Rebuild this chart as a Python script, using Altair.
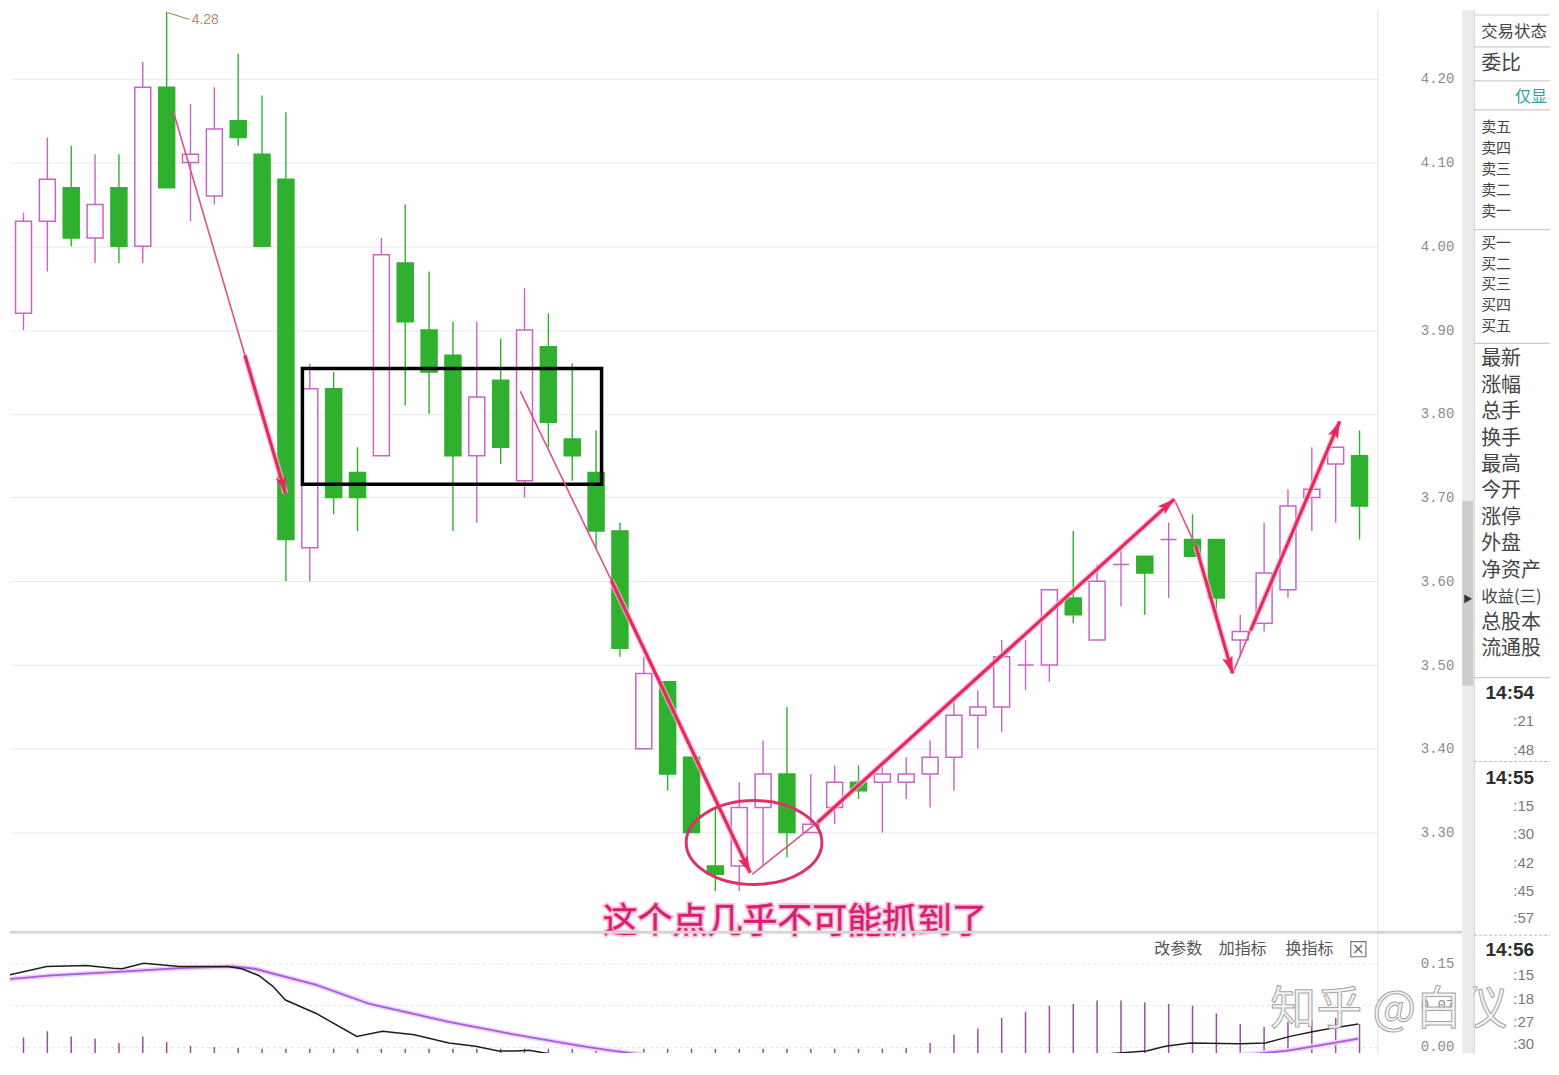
import altair as alt
import pandas as pd

# ---------------------------------------------------------------- candles
candle_idx = list(range(58))
opens = [3.82, 3.92, 4.03, 4.07, 4.01, 4.07, 4.00, 4.19, 4.10, 4.06, 4.15, 4.11, 4.08, 3.64, 3.83,
         3.73, 3.75, 3.98, 3.90, 3.87, 3.75, 3.84, 3.72, 3.88, 3.77, 3.73, 3.66, 3.40, 3.48, 3.39,
         3.26, 3.26, 3.33, 3.37, 3.30, 3.33, 3.36, 3.36, 3.36, 3.37, 3.39, 3.44, 3.45, 3.50, 3.50,
         3.58, 3.53, 3.62, 3.63, 3.65, 3.65, 3.65, 3.53, 3.55, 3.59, 3.70, 3.74, 3.75]
closes = [3.92, 4.03, 4.08, 4.01, 4.05, 4.00, 4.19, 4.07, 4.11, 4.14, 4.13, 4.00, 3.65, 3.83, 3.70,
          3.70, 3.99, 3.91, 3.85, 3.75, 3.82, 3.76, 3.90, 3.79, 3.75, 3.66, 3.52, 3.49, 3.37, 3.30,
          3.25, 3.33, 3.37, 3.30, 3.31, 3.36, 3.35, 3.37, 3.37, 3.39, 3.44, 3.45, 3.51, 3.50, 3.59,
          3.56, 3.60, 3.62, 3.61, 3.65, 3.63, 3.58, 3.54, 3.61, 3.69, 3.71, 3.76, 3.69]
highs = [3.94, 4.04, 4.13, 4.12, 4.11, 4.11, 4.22, 4.28, 4.17, 4.19, 4.23, 4.18, 4.16, 3.86, 3.85,
         3.76, 4.01, 4.05, 3.97, 3.91, 3.91, 3.89, 3.95, 3.92, 3.86, 3.78, 3.67, 3.51, 3.48, 3.39,
         3.33, 3.36, 3.41, 3.45, 3.37, 3.38, 3.38, 3.38, 3.39, 3.41, 3.46, 3.47, 3.53, 3.53, 3.59,
         3.66, 3.62, 3.64, 3.63, 3.67, 3.68, 3.65, 3.56, 3.67, 3.71, 3.76, 3.76, 3.78]
lows = [3.80, 3.90, 3.97, 4.00, 3.98, 3.98, 3.98, 4.07, 4.03, 4.05, 4.12, 4.00, 3.60, 3.60, 3.68,
        3.66, 3.75, 3.81, 3.80, 3.66, 3.67, 3.74, 3.70, 3.76, 3.72, 3.64, 3.51, 3.40, 3.35, 3.30,
        3.23, 3.23, 3.26, 3.27, 3.30, 3.31, 3.34, 3.30, 3.34, 3.33, 3.35, 3.40, 3.42, 3.47, 3.48,
        3.55, 3.53, 3.57, 3.56, 3.58, 3.63, 3.56, 3.51, 3.54, 3.58, 3.66, 3.67, 3.65]
price_ticks = [3.30, 3.40, 3.50, 3.60, 3.70, 3.80, 3.90, 4.00, 4.10, 4.20]
high_label = "4.28"

# ---------------------------------------------------------------- MACD panel
macd_ticks = [0.00, 0.075, 0.15]
dif_k = [0.31, 1.97, 3.63, 4.75, 5.13, 6.04, 7.54, 9.57, 10.15, 10.86, 11.44, 11.98, 13.27, 14.97,
         16.05, 17.38, 18.83, 19.95, 20.91, 21.61, 22.19, 22.74, 26.0, 31.0, 38.0, 44.0, 48.07,
         48.86, 49.9, 52.0, 53.05, 54.09, 55.13, 56.17, 56.95]
dif_v = [0.128, 0.144, 0.146, 0.141, 0.140, 0.150, 0.144, 0.144, 0.140, 0.128, 0.109, 0.084, 0.060,
         0.019, 0.028, 0.022, 0.007, 0.0015, -0.007, -0.007, -0.006, -0.010, -0.030, -0.050, -0.035,
         -0.020, -0.007, 0.0015, 0.007, 0.006, 0.007, 0.019, 0.028, 0.036, 0.041]
dea_k = [0.31, 2.18, 5.13, 7.54, 9.78, 10.69, 13.27, 15.51, 18.83, 21.61, 24.4, 25.73, 30.0, 40.0,
         48.0, 53.92, 55.13, 56.17, 56.95]
dea_v = [0.121, 0.128, 0.135, 0.141, 0.144, 0.140, 0.111, 0.077, 0.045, 0.022, 0.0015, -0.007,
         -0.030, -0.040, -0.030, -0.007, 0.0015, 0.009, 0.015]
hist_k = list(range(1, 58))
hist_v = [0.017, 0.028, 0.019, 0.015, 0.007, 0.019, 0.009, 0.002, 0.000, -0.002,
          -0.003, -0.003, -0.003, -0.003, -0.003, -0.003, -0.003, -0.003, -0.003, -0.003,
          -0.003, -0.003, -0.003, -0.003, -0.003, -0.003, -0.003, -0.003, -0.003, -0.003,
          -0.003, -0.003, -0.003, -0.003, -0.003, -0.003, -0.003, -0.002,
          0.007, 0.022, 0.033, 0.052, 0.063, 0.074, 0.077, 0.083, 0.083, 0.080, 0.077, 0.074,
          0.060, 0.041, 0.036, 0.045, 0.048, 0.052, 0.041]
tool_labels = ["改参数", "加指标", "换指标"]
tool_k = [49.4, 52.1, 54.9]
tool_v = [0.175, 0.175, 0.175]
close_k = [56.95]
close_v = [0.175]
watermark = ["知乎 @白仪"]
watermark_k = [53.26]
watermark_v = [0.066]

# ---------------------------------------------------------------- annotations (candle index, price)
seg_id = ["a1", "a1", "a2", "a2", "a3", "a3", "a4", "a4", "a5", "a5"]
thin_k = [7.29, 10.28, 21.82, 25.64, 31.54, 34.28, 49.23, 50.14, 51.68, 52.43]
thin_p = [4.160, 3.870, 3.827, 3.601, 3.250, 3.312, 3.698, 3.642, 3.490, 3.541]
thick_k = [10.28, 11.98, 25.64, 31.46, 34.28, 49.23, 50.14, 51.68, 52.43, 56.17]
thick_p = [3.870, 3.705, 3.601, 3.252, 3.312, 3.698, 3.642, 3.490, 3.541, 3.791]
head_k = [11.98, 31.46, 49.23, 51.68, 56.17]
head_p = [3.705, 3.252, 3.698, 3.490, 3.791]
head_angle = [164, 154, 49, 162, 23]
box_k = [12.69, 25.23]
box_p = [3.854, 3.716]
circle_k = [31.62]
circle_p = [3.288]
note_text = ["这个点几乎不可能抓到了"]
note_k = [33.33]
note_p = [3.193]
hi_mark_k = [7.05, 7.95]
hi_mark_p = [4.279, 4.271]
hi_text_k = [8.05]
hi_text_p = [4.270]

# ---------------------------------------------------------------- side panel (screen rows)
side_labels = ["委比", "最新", "涨幅", "总手", "换手", "最高", "今开", "涨停", "外盘", "净资产",
               "总股本", "流通股"]
side_rows = [62, 358, 385, 411, 438, 464, 490, 517, 543, 570, 622, 648]
small_labels = ["交易状态", "收益(三)"]
small_rows = [30, 596]
book_labels = ["卖五", "卖四", "卖三", "卖二", "卖一", "买一", "买二", "买三", "买四", "买五"]
book_rows = [125, 146, 167, 188, 209, 241, 262, 283, 304, 325]
time_labels = ["14:54", ":21", ":48", "14:55", ":15", ":30", ":42", ":45", ":57", "14:56", ":15",
               ":18", ":27", ":30"]
time_rows = [692, 720, 749, 777, 806, 834, 863, 891, 918, 950, 975, 999, 1022, 1044]
link_label = ["仅显"]
link_row = [95]
solid_rows = [13, 45, 79, 108, 228, 342, 677]
dashed_rows = [761, 935]

# ================================================================ styling / scales
PINK = "#c864c8"
GREEN = "#2fb02f"
RED = "#e8285e"
W, H = 1370, 1045
xs = alt.Scale(domain=[0.643, 57.537], nice=False, zero=False)
ys = alt.Scale(domain=[3.0367, 4.2822], nice=False, zero=False)
ms = alt.Scale(domain=[-0.0107, 1.8554], nice=False, zero=False)


def X(f):
    return alt.X(f, type="quantitative", scale=xs, axis=None)


def YP(f, axis=None):
    return alt.Y(f, type="quantitative", scale=ys, axis=axis)


def YM(f, axis=None):
    return alt.Y(f, type="quantitative", scale=ms, axis=axis)


price_axis = alt.Axis(orient="right", values=price_ticks, format=".2f", title=None, ticks=False,
                      labelPadding=43, labelAlign="left", labelBaseline="middle",
                      labelFont="Liberation Mono", labelFontSize=14, labelColor="#8c8c8c",
                      minExtent=85, maxExtent=85, domain=True, domainColor="#e0e0e0",
                      grid=True, gridColor="#e8e8ef")
macd_axis = alt.Axis(orient="right", values=macd_ticks, format=".2f", title=None, ticks=False,
                     labelPadding=43, labelAlign="left", labelBaseline="middle",
                     labelFont="Liberation Mono", labelFontSize=14, labelColor="#8c8c8c",
                     minExtent=85, maxExtent=85, domain=False, grid=True, gridColor="#e4e4e4",
                     gridDash=[3, 3])

cdf = pd.DataFrame({"k": candle_idx, "open": opens, "close": closes, "high": highs, "low": lows})
cdf["dir"] = ["up" if c >= o else "down" for o, c in zip(opens, closes)]
line_sc = alt.Scale(domain=["up", "down"], range=[PINK, GREEN])
fill_sc = alt.Scale(domain=["up", "down"], range=["#ffffff", GREEN])

wicks = alt.Chart(cdf).mark_rule(strokeWidth=1.4, clip=True).encode(
    x=X("k"), y=YP("low", price_axis), y2="high",
    color=alt.Color("dir:N", scale=line_sc, legend=None))
bodies = alt.Chart(cdf).mark_bar(size=16, strokeWidth=1.5, clip=True).encode(
    x=X("k"), y=YP("open"), y2="close",
    fill=alt.Fill("dir:N", scale=fill_sc, legend=None),
    stroke=alt.Stroke("dir:N", scale=line_sc, legend=None))

box = alt.Chart(pd.DataFrame({"k1": [box_k[0]], "k2": [box_k[1]], "p1": [box_p[0]], "p2": [box_p[1]]})
                ).mark_rect(fillOpacity=0, stroke="#000000", strokeWidth=3.5).encode(
    x=X("k1"), x2="k2", y=YP("p1"), y2="p2")

thin_df = pd.DataFrame({"id": seg_id, "k": thin_k, "p": thin_p, "o": list(range(len(seg_id)))})
thick_df = pd.DataFrame({"id": seg_id, "k": thick_k, "p": thick_p, "o": list(range(len(seg_id)))})
thin = alt.Chart(thin_df).mark_line(color="#e0508a", strokeWidth=1.6).encode(
    x=X("k"), y=YP("p"), detail="id:N", order="o:Q")
thick_halo = alt.Chart(thick_df).mark_line(color="#f6bcd0", strokeWidth=6, opacity=0.7).encode(
    x=X("k"), y=YP("p"), detail="id:N", order="o:Q")
thick = alt.Chart(thick_df).mark_line(color=RED, strokeWidth=3.2).encode(
    x=X("k"), y=YP("p"), detail="id:N", order="o:Q")
ARROW = "M 0 0 L 0.6 1.9 L 0 1.5 L -0.6 1.9 Z"
heads = alt.Chart(pd.DataFrame({"k": head_k, "p": head_p, "a": head_angle})).mark_point(
    shape=ARROW, filled=True, size=324, color=RED, opacity=1).encode(
    x=X("k"), y=YP("p"), angle=alt.Angle("a:Q", scale=None))
ELLIPSE = ("M -1 0 C -1 -0.341 -0.552 -0.618 0 -0.618 C 0.552 -0.618 1 -0.341 1 0 "
           "C 1 0.341 0.552 0.618 0 0.618 C -0.552 0.618 -1 0.341 -1 0 Z")
ellipse = alt.Chart(pd.DataFrame({"k": circle_k, "p": circle_p})).mark_point(
    shape=ELLIPSE, filled=False, size=18496, strokeWidth=3, color="#e03068", opacity=1).encode(
    x=X("k"), y=YP("p"))
note_df = pd.DataFrame({"k": note_k, "p": note_p, "t": note_text})
note_halo = alt.Chart(note_df).mark_text(font="Noto Sans CJK SC", fontSize=35, color="#f8c8dc",
                                         stroke="#f8c8dc", strokeWidth=4, align="center",
                                         baseline="middle").encode(x=X("k"), y=YP("p"), text="t:N")
note = alt.Chart(note_df).mark_text(font="Noto Sans CJK SC", fontSize=35, color="#d81e73",
                                    stroke="#d81e73", strokeWidth=0.5, align="center",
                                    baseline="middle").encode(x=X("k"), y=YP("p"), text="t:N")
hi_rule = alt.Chart(pd.DataFrame({"k1": [hi_mark_k[0]], "k2": [hi_mark_k[1]], "p1": [hi_mark_p[0]],
                                  "p2": [hi_mark_p[1]]})).mark_rule(color="#b07850", strokeWidth=1).encode(
    x=X("k1"), x2="k2", y=YP("p1"), y2="p2")
hi_text = alt.Chart(pd.DataFrame({"k": hi_text_k, "p": hi_text_p, "t": [high_label]})).mark_text(
    font="Liberation Sans", fontSize=14, color="#c08a66", align="left", baseline="middle").encode(
    x=X("k"), y=YP("p"), text="t:N")

hist = alt.Chart(pd.DataFrame({"k": hist_k, "v": hist_v})).mark_rule(
    strokeWidth=1.5, color="#9a4f9a", clip=True).encode(x=X("k"), y=YM("v", macd_axis), y2=alt.value(H))
dea_df = pd.DataFrame({"k": dea_k, "v": dea_v})
dea_glow = alt.Chart(dea_df).mark_line(color="#ecd2f8", strokeWidth=5, clip=True).encode(
    x=X("k"), y=YM("v"))
dea = alt.Chart(dea_df).mark_line(color="#a95ae0", strokeWidth=1.8, clip=True).encode(
    x=X("k"), y=YM("v"))
dif = alt.Chart(pd.DataFrame({"k": dif_k, "v": dif_v})).mark_line(
    color="#1e1e1e", strokeWidth=1.5, clip=True).encode(x=X("k"), y=YM("v"))
sep = alt.Chart(pd.DataFrame({"s": [0]})).mark_rule(color="#d6d6d6", strokeWidth=3).encode(
    x=alt.value(0), x2=alt.value(1455), y=alt.value(924))
tools = alt.Chart(pd.DataFrame({"k": tool_k, "v": tool_v, "t": tool_labels})).mark_text(
    font="Noto Sans CJK SC", fontSize=16, color="#555555", align="center", baseline="middle").encode(
    x=X("k"), y=YM("v"), text="t:N")
close_df = pd.DataFrame({"k": close_k, "v": close_v, "t": ["×"]})
close_box = alt.Chart(close_df).mark_point(shape="square", size=230, filled=False, color="#777777",
                                           strokeWidth=1.2, opacity=1).encode(x=X("k"), y=YM("v"))
close_x = alt.Chart(close_df).mark_text(font="DejaVu Sans", fontSize=15, color="#666666",
                                        align="center", baseline="middle").encode(
    x=X("k"), y=YM("v"), text="t:N")
wm = alt.Chart(pd.DataFrame({"k": watermark_k, "v": watermark_v, "t": watermark})).mark_text(
    font="Noto Sans CJK SC", fontSize=46, color="#f4f4f4", stroke="#9c9c9c", strokeWidth=1,
    opacity=0.9, align="left", baseline="middle").encode(x=X("k"), y=YM("v"), text="t:N")

left = alt.layer(
    wicks, bodies, box, thin, thick_halo, thick, heads, ellipse, note_halo, note, hi_rule, hi_text,
    hist, dea_glow, dea, dif, sep, tools, close_box, close_x, wm
).resolve_scale(y="independent").properties(width=W, height=H)

# ---------------------------------------------------------------- side panel
SW = 88
sx = alt.Scale(domain=[1463, 1463 + SW], nice=False, zero=False)
sy = alt.Scale(domain=[8, 1053], nice=False, zero=False, reverse=True)


def SX(f):
    return alt.X(f, type="quantitative", scale=sx, axis=None)


def SY(f):
    return alt.Y(f, type="quantitative", scale=sy, axis=None)


track = alt.Chart(pd.DataFrame({"x1": [1463, 1463], "x2": [1474, 1474], "y1": [8, 500],
                                "y2": [1053, 685], "c": ["#ececec", "#cdcdcd"]})).mark_rect().encode(
    x=SX("x1"), x2="x2", y=SY("y1"), y2="y2", color=alt.Color("c:N", scale=None))
knob = alt.Chart(pd.DataFrame({"x": [1469], "y": [598]})).mark_point(
    shape="triangle-right", size=80, filled=True, color="#333333", opacity=1).encode(x=SX("x"), y=SY("y"))
vline = alt.Chart(pd.DataFrame({"x": [1475], "y1": [8], "y2": [1053]})).mark_rule(
    color="#cfcfcf", strokeWidth=1.2).encode(x=SX("x"), y=SY("y1"), y2="y2")
hsolid = alt.Chart(pd.DataFrame({"y": solid_rows, "x1": [1475] * len(solid_rows),
                                 "x2": [1463 + SW] * len(solid_rows)})).mark_rule(
    color="#cccccc", strokeWidth=1.2).encode(x=SX("x1"), x2="x2", y=SY("y"))
hdash = alt.Chart(pd.DataFrame({"y": dashed_rows, "x1": [1475] * len(dashed_rows),
                                "x2": [1463 + SW] * len(dashed_rows)})).mark_rule(
    color="#bbbbbb", strokeWidth=1, strokeDash=[3, 2]).encode(x=SX("x1"), x2="x2", y=SY("y"))
labels = alt.Chart(pd.DataFrame({"t": side_labels, "y": side_rows, "x": [1482] * len(side_rows)})
                   ).mark_text(font="Noto Sans CJK SC", fontSize=20, color="#454545", align="left",
                               baseline="middle").encode(x=SX("x"), y=SY("y"), text="t:N")
small = alt.Chart(pd.DataFrame({"t": small_labels, "y": small_rows, "x": [1482] * len(small_rows)})
                  ).mark_text(font="Noto Sans CJK SC", fontSize=16.5, color="#454545", align="left",
                              baseline="middle").encode(x=SX("x"), y=SY("y"), text="t:N")
book = alt.Chart(pd.DataFrame({"t": book_labels, "y": book_rows, "x": [1482] * len(book_rows)})
                 ).mark_text(font="Noto Sans CJK SC", fontSize=15, color="#454545", align="left",
                             baseline="middle").encode(x=SX("x"), y=SY("y"), text="t:N")
link = alt.Chart(pd.DataFrame({"t": link_label, "y": link_row, "x": [1516]})).mark_text(
    font="Noto Sans CJK SC", fontSize=16, color="#2f9fb4", align="left", baseline="middle").encode(
    x=SX("x"), y=SY("y"), text="t:N")
tdf = pd.DataFrame({"t": time_labels, "y": time_rows, "x": [1535] * len(time_rows)})
tdf_big = tdf[tdf["t"].str.startswith("14")]
tdf_small = tdf[~tdf["t"].str.startswith("14")]
times_big = alt.Chart(tdf_big).mark_text(font="Liberation Sans", fontSize=19, fontWeight="bold",
                                         color="#2e2e2e", align="right", baseline="middle").encode(
    x=SX("x"), y=SY("y"), text="t:N")
times_small = alt.Chart(tdf_small).mark_text(font="Liberation Sans", fontSize=15, color="#7a7a7a",
                                             align="right", baseline="middle").encode(
    x=SX("x"), y=SY("y"), text="t:N")

side = alt.layer(track, knob, vline, hsolid, hdash, labels, small, book, link, times_big,
                 times_small).properties(width=SW, height=H)

chart = alt.hconcat(left, side, spacing=85, bounds="flush").properties(
    padding=0, background="#ffffff").configure_view(stroke=None)

chart.save("out.html", embed_options={"renderer": "svg", "actions": False})
